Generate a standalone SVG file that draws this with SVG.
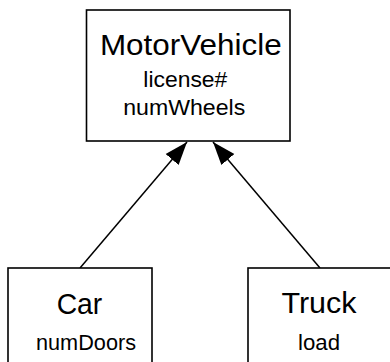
<svg xmlns="http://www.w3.org/2000/svg" width="390" height="362" viewBox="0 0 390 362">
  <style>
    .box { fill: #ffffff; stroke: #000000; stroke-width: 1.6; }
    .edge { fill: none; stroke: #000000; stroke-width: 1.5; }
    text { font-family: "Liberation Sans", Arial, sans-serif; fill: #000000; text-anchor: middle; }
    .title { font-size: 29px; }
    .attr { font-size: 21.5px; }
  </style>
  <defs>
    <marker id="inherit" markerUnits="userSpaceOnUse" markerWidth="26" markerHeight="20" viewBox="0 -10 26 20" refX="23" refY="0" orient="auto">
      <path d="M0,-8.5 L23,0 L0,8.5 z" fill="#000000"/>
    </marker>
  </defs>

  <rect width="390" height="362" fill="#ffffff"/>

  <g id="connectors">
    <line class="edge" x1="80" y1="268" x2="187" y2="142" marker-end="url(#inherit)"/>
    <line class="edge" x1="320" y1="268" x2="213" y2="142" marker-end="url(#inherit)"/>
  </g>

  <g id="MotorVehicle">
    <rect class="box" x="86.5" y="10" width="203.5" height="131"/>
    <text class="title" x="190.8" y="54.5" textLength="181.7" lengthAdjust="spacingAndGlyphs">MotorVehicle</text>
    <text class="attr" x="185.3" y="87" textLength="84" lengthAdjust="spacingAndGlyphs">license#</text>
    <text class="attr" x="184.2" y="115" textLength="122" lengthAdjust="spacingAndGlyphs">numWheels</text>
  </g>

  <g id="Car">
    <rect class="box" x="8" y="268" width="144" height="110"/>
    <text class="title" x="79.5" y="313.5" textLength="45.6" lengthAdjust="spacingAndGlyphs">Car</text>
    <text class="attr" x="86" y="350" textLength="100" lengthAdjust="spacingAndGlyphs">numDoors</text>
  </g>

  <g id="Truck">
    <rect class="box" x="248" y="268" width="160" height="110"/>
    <text class="title" x="319" y="312.5" textLength="75" lengthAdjust="spacingAndGlyphs">Truck</text>
    <text class="attr" x="319" y="350" textLength="42" lengthAdjust="spacingAndGlyphs">load</text>
  </g>
</svg>
